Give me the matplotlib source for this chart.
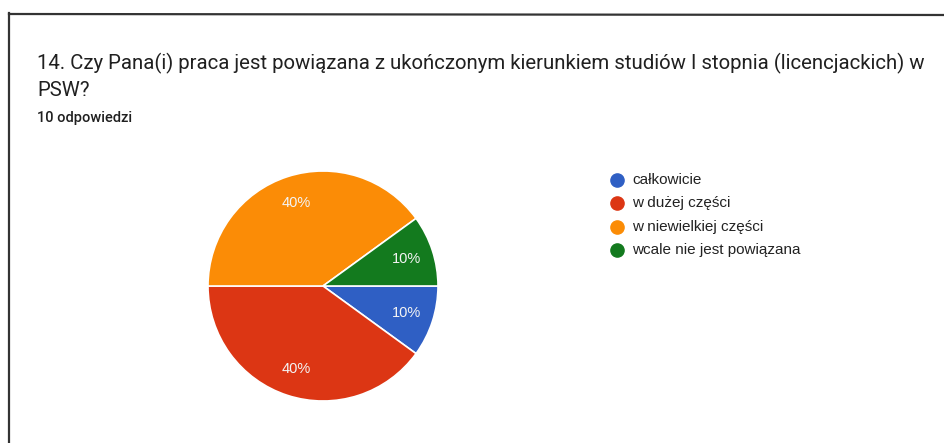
import matplotlib
matplotlib.use('Agg')
import matplotlib.pyplot as plt
from matplotlib.lines import Line2D

# data
title_line1 = "14. Czy Pana(i) praca jest powiązana z ukończonym kierunkiem studiów I stopnia (licencjackich) w"
title_line2 = "PSW?"
subtitle = "10 odpowiedzi"
categories = ["całkowicie", "w dużej części", "w niewielkiej części", "wcale nie jest powiązana"]
shares = [10, 40, 40, 10]
colors = ["#2f5fc4", "#dc3614", "#fb8c06", "#137a1e"]

W, H = 945, 443
fig = plt.figure(figsize=(W / 100, H / 100), dpi=100)
fig.patch.set_facecolor("white")

# scanned frame (top and left edges only)
fig.add_artist(Line2D([9 / W, 1], [1 - 14 / H, 1 - 15 / H], color="#333333", lw=1.6))
fig.add_artist(Line2D([9.5 / W, 9.5 / W], [0, 1 - 13 / H], color="#333333", lw=1.6))

fig.text(37 / W, 1 - 63 / H, title_line1, fontsize=14.65, family="Roboto",
         color="#202020", va="center", ha="left")
fig.text(37 / W, 1 - 91 / H, title_line2, fontsize=14.65, family="Roboto",
         color="#202020", va="center", ha="left")
fig.text(37 / W, 1 - 118 / H, subtitle, fontsize=10.5, family="Roboto",
         weight="medium", color="#202020", va="center", ha="left")

# pie: centre (323, 286) px, radius 115 px
cx, cy, r = 323, 286, 115
lim = 1.04
side = 2 * lim * r
ax = fig.add_axes([(cx - side / 2) / W, (H - cy - side / 2) / H, side / W, side / H])
wedges, texts, autotexts = ax.pie(
    shares, colors=colors, startangle=0, counterclock=False,
    autopct=lambda p: f"{p:.0f}%", pctdistance=0.76,
    wedgeprops=dict(edgecolor="white", linewidth=1.2),
    textprops=dict(color="#f4f4f4", fontsize=10.5, family="Liberation Sans"),
)
ax.set_xlim(-lim, lim)
ax.set_ylim(-lim, lim)
ax.set_aspect("equal")
ax.axis("off")

# legend
for i, (cat, col) in enumerate(zip(categories, colors)):
    y = 1 - (180 + i * 23.3) / H
    fig.add_artist(Line2D([617 / W], [y], marker="o", markersize=9.5,
                          color=col, linestyle="none"))
    fig.text(632 / W, y, cat, fontsize=11, family="Liberation Sans",
             color="#222222", va="center", ha="left")

plt.savefig("out.png", dpi=100)
plt.close()
